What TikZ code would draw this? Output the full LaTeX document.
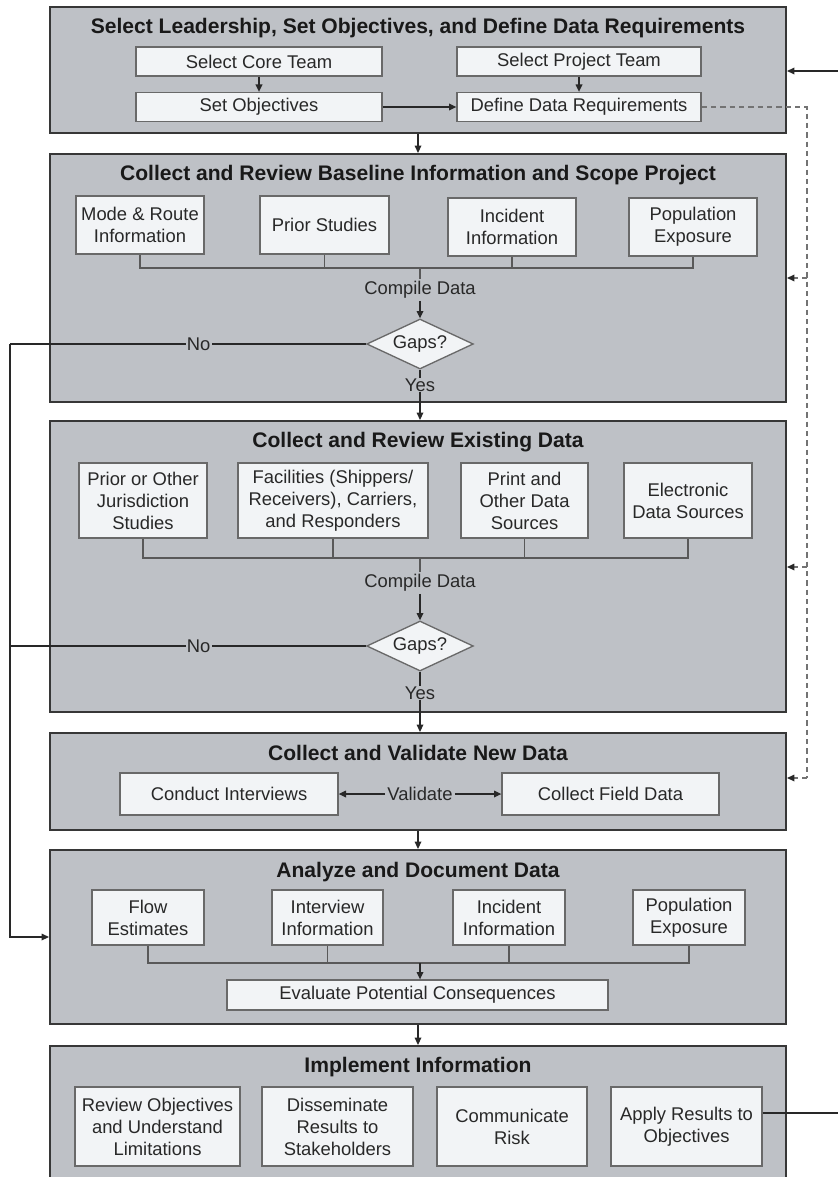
\documentclass[tikz,border=0pt]{standalone}
\usepackage{fontspec}
\setmainfont{Liberation Sans}
\usetikzlibrary{arrows.meta,fit,shapes.geometric}
\definecolor{panelfill}{RGB}{190,193,198}
\definecolor{boxfill}{RGB}{242,244,246}
\definecolor{edgec}{RGB}{55,55,55}
\definecolor{boxedge}{RGB}{105,105,105}
\definecolor{linec}{RGB}{40,40,40}
\definecolor{txtc}{RGB}{40,40,40}
\begin{document}
\begin{tikzpicture}[x=0.75pt,y=-0.75pt,
 every node/.style={text=txtc},
 panel/.style={draw=edgec,line width=1.6pt,fill=panelfill,inner sep=0pt},
 ptitle/.style={font=\bfseries\fontsize{15.8}{18}\selectfont,inner sep=0pt,text=black!90},
 sz/.style 2 args={minimum width=#1*0.75pt,minimum height=#2*0.75pt},
 bx/.style={draw=boxedge,line width=1pt,fill=boxfill,inner sep=0pt,align=center,font=\fontsize{13.8}{16.5}\selectfont},
 lbl/.style={fill=panelfill,inner sep=1.5pt,font=\fontsize{13.8}{16}\selectfont},
 conn/.style={draw=linec,line width=0.9pt},
 arr/.style={conn,-{Triangle[length=5.5pt,width=5pt]}},
 brk/.style={draw=black!65,line width=1pt},
 dsh/.style={draw=black!55,line width=0.9pt,dash pattern=on 4pt off 3pt},
 darr/.style={dsh,-{Triangle[length=5.5pt,width=5pt,color=linec,fill=linec]}},
 dia/.style={diamond,draw=boxedge,fill=boxfill,line width=1pt,inner sep=0pt,aspect=2.1,minimum width=80pt,minimum height=37.5pt,font=\fontsize{13.8}{16}\selectfont}]
\useasboundingbox[fill=white] (0,0) rectangle (838,1177);

% ---------- Panel 1
\node[panel,fit={(50,7) (786,133)}] (p1) {};
\node[ptitle] (t1) at (418,28) {Select Leadership, Set Objectives, and Define Data Requirements};
\node[bx,sz={246}{29}] (core) at (259,61.5) {Select Core Team};
\node[bx,sz={244}{29}] (proj) at (579,61.5) {Select Project Team};
\node[bx,sz={246}{29}] (obj) at (259,107) {Set Objectives};
\node[bx,sz={244}{29}] (req) at (579,107) {Define Data Requirements};
\draw[arr] (core) -- (obj);
\draw[arr] (proj) -- (req);
\draw[arr] (obj) -- (req);

% ---------- Panel 2
\node[panel,fit={(50,154) (786,402)}] (p2) {};
\node[ptitle] (t2) at (418,175) {Collect and Review Baseline Information and Scope Project};
\node[bx,sz={128}{58}] (mode) at (140,225) {Mode \& Route\\Information};
\node[bx,sz={129}{58}] (prior) at (324.5,225) {Prior Studies};
\node[bx,sz={128}{58}] (incid) at (512,227) {Incident\\Information};
\node[bx,sz={128}{58}] (popu) at (693,227) {Population\\Exposure};
\coordinate (j1) at (420,268);
\node[lbl] (cd1) at (420,290) {Compile Data};
\node[dia] (d1) at (420,344) {Gaps?};
\node[lbl,inner sep=0.5pt] (y1) at (420,385) {Yes};
\draw[brk] (mode.south) |- (popu.south |- j1) -- (popu.south);
\draw[brk] (prior.south) -- (prior.south |- j1);
\draw[brk] (incid.south) -- (incid.south |- j1);
\draw[brk] (j1) -- (cd1.north);
\draw[arr] (cd1.south) -- (d1.north);
\draw[conn] (d1.south) -- (y1.north);

% ---------- Panel 3
\node[panel,fit={(50,421) (786,712)}] (p3) {};
\node[ptitle] (t3) at (418,442) {Collect and Review Existing Data};
\node[bx,sz={128}{75}] (oth) at (143,500.5) {Prior or Other\\Jurisdiction\\Studies};
\node[bx,sz={190}{75}] (fac) at (333,500.5) {Facilities (Shippers/\\Receivers), Carriers,\\and Responders};
\node[bx,sz={127}{75}] (prnt) at (524.5,500.5) {Print and\\Other Data\\Sources};
\node[bx,sz={128}{75}] (elec) at (688,500.5) {Electronic\\Data Sources};
\coordinate (j2) at (420,558);
\node[lbl] (cd2) at (420,583) {Compile Data};
\node[dia] (d2) at (420,646) {Gaps?};
\node[lbl,inner sep=0.5pt] (y2) at (420,693) {Yes};
\draw[brk] (oth.south) |- (elec.south |- j2) -- (elec.south);
\draw[brk] (fac.south) -- (fac.south |- j2);
\draw[brk] (prnt.south) -- (prnt.south |- j2);
\draw[brk] (j2) -- (cd2.north);
\draw[arr] (cd2.south) -- (d2.north);
\draw[conn] (d2.south) -- (y2.north);

% ---------- Panel 4
\node[panel,fit={(50,733) (786,830)}] (p4) {};
\node[ptitle] (t4) at (418,753) {Collect and Validate New Data};
\node[bx,sz={218}{42}] (cond) at (229,794) {Conduct Interviews};
\node[bx,sz={217}{42}] (field) at (610.5,794) {Collect Field Data};
\node[lbl] (val) at (420,794) {Validate};
\draw[arr] (val) -- (cond);
\draw[arr] (val) -- (field);

% ---------- Panel 5
\node[panel,fit={(50,850) (786,1024)}] (p5) {};
\node[ptitle] (t5) at (418,872) {Analyze and Document Data};
\node[bx,sz={112}{55}] (flow) at (148,917.5) {Flow\\Estimates};
\node[bx,sz={111}{55}] (intv) at (327.5,917.5) {Interview\\Information};
\node[bx,sz={112}{55}] (inc2) at (509,917.5) {Incident\\Information};
\node[bx,sz={112}{55}] (pop2) at (689,917.5) {Population\\Exposure};
\node[bx,sz={381}{30}] (eval) at (417.5,995) {Evaluate Potential Consequences};
\coordinate (j5) at (420,963);
\draw[brk] (flow.south) |- (pop2.south |- j5) -- (pop2.south);
\draw[brk] (intv.south) -- (intv.south |- j5);
\draw[brk] (inc2.south) -- (inc2.south |- j5);
\draw[arr] (j5) -- (j5 |- eval.north);

% ---------- Panel 6
\node[panel,fit={(50,1046) (786,1192)}] (p6) {};
\node[ptitle] (t6) at (418,1067) {Implement Information};
\node[bx,sz={165}{79}] (rev) at (157.5,1126.5) {Review Objectives\\and Understand\\Limitations};
\node[bx,sz={151}{79}] (diss) at (337.5,1126.5) {Disseminate\\Results to\\Stakeholders};
\node[bx,sz={150}{79}] (comm) at (512,1126.5) {Communicate\\Risk};
\node[bx,sz={151}{79}] (appl) at (686.5,1126.5) {Apply Results to\\Objectives};

% ---------- arrows between panels
\draw[arr] (p1.south) -- (p2.north);
\draw[arr] (y1.south) -- (y1.south |- p3.north);
\draw[arr] (y2.south) -- (y2.south |- p4.north);
\draw[arr] (p4.south) -- (p5.north);
\draw[arr] (p5.south) -- (p6.north);

% ---------- "No" loop on the left
\coordinate (l1) at (10,344);
\coordinate (l2) at (10,646);
\coordinate (l3) at (10,937);
\draw[conn] (d1.west) -- node[lbl,inner sep=1pt,pos=0.47] {No} (l1);
\draw[conn] (d2.west) -- node[lbl,inner sep=1pt,pos=0.47] {No} (l2);
\draw[arr] (l1) -- (l3) -- (l3 -| p5.west);

% ---------- dashed feedback on the right
\coordinate (dtop) at (807,107);
\coordinate (da2) at (807,278);
\coordinate (da3) at (807,567);
\coordinate (da4) at (807,778);
\draw[dsh] (req.east) -- (dtop) -- (da4);
\draw[darr] (da2) -- (da2 -| p2.east);
\draw[darr] (da3) -- (da3 -| p3.east);
\draw[darr] (da4) -- (da4 -| p4.east);

% ---------- solid loop from the last panel back to the first
\coordinate (rb) at (846,1113);
\coordinate (rt) at (846,71);
\draw[arr] (rb -| appl.east) -- (rb) -- (rt) -- (rt -| p1.east);
\end{tikzpicture}
\end{document}
